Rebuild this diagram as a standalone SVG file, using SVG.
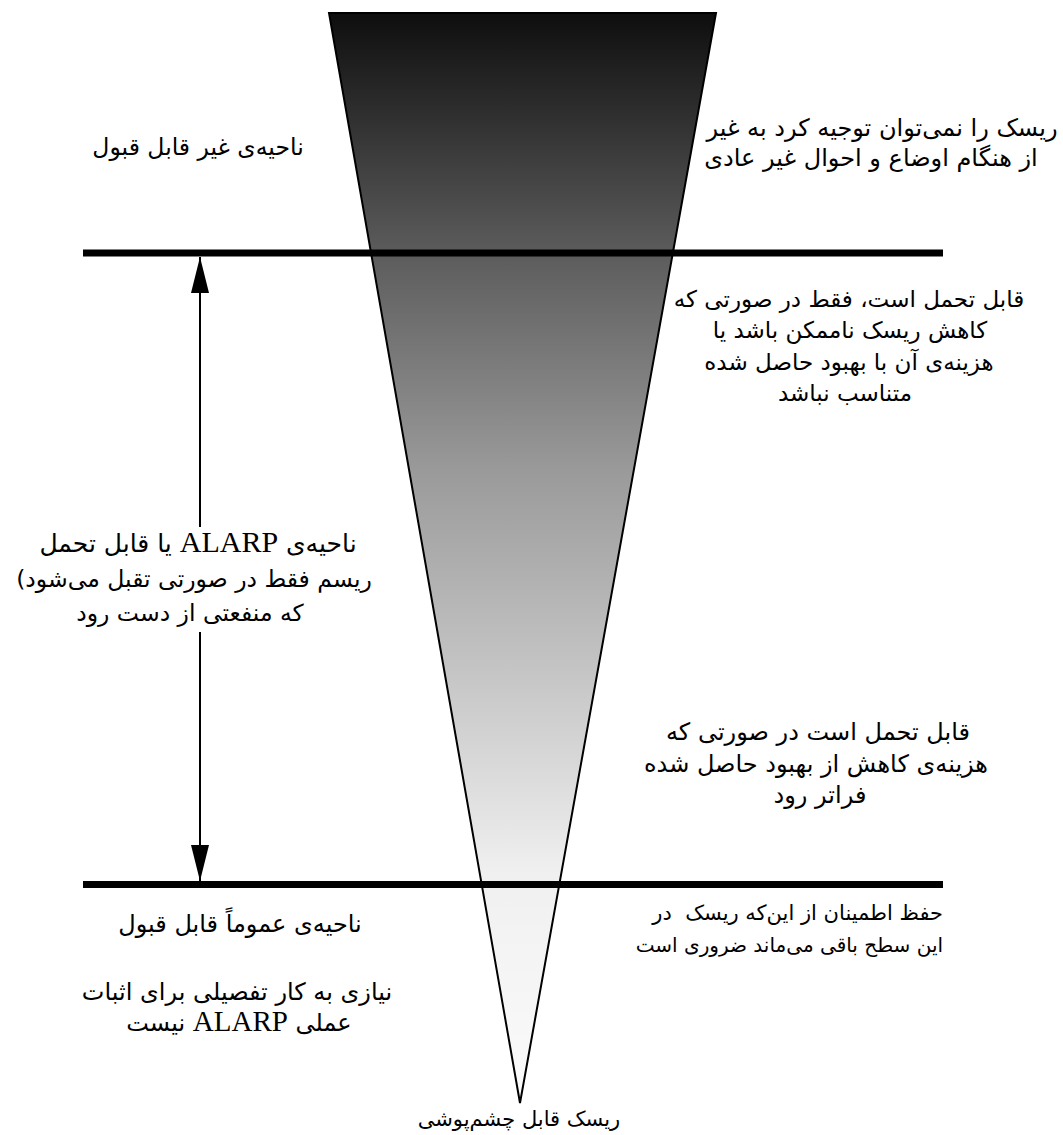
<svg xmlns="http://www.w3.org/2000/svg" width="1063" height="1135" viewBox="0 0 1063 1135">
<defs>
<linearGradient id="tri" gradientUnits="userSpaceOnUse" x1="0" y1="13" x2="0" y2="1103">
<stop offset="0" stop-color="#0e0e0e"/>
<stop offset="0.215" stop-color="#5a5a5a"/>
<stop offset="0.42" stop-color="#9a9a9a"/>
<stop offset="0.79" stop-color="#f0f0f0"/>
<stop offset="1" stop-color="#fbfbfb"/>
</linearGradient>
<marker id="ah" viewBox="0 0 36 18" refX="36" refY="9" markerWidth="36" markerHeight="18" orient="auto" markerUnits="userSpaceOnUse">
<path d="M0,0 L36,9 L0,18 z" fill="#000"/>
</marker>
<style>
text{font-family:"DejaVu Sans","Noto Sans",sans-serif;font-size:23px;fill:#000;text-anchor:middle}
.lat{font-family:"Liberation Serif",serif;font-size:29px}
.bar{stroke:#000;stroke-width:7}
.arr{stroke:#000;stroke-width:2;fill:none;marker-end:url(#ah)}
</style>
</defs>
<rect width="1063" height="1135" fill="#fff"/>
<g id="triangle">
<path d="M329,13 L716,13 L520,1103 Z" fill="url(#tri)" stroke="#000" stroke-width="2" stroke-linejoin="miter"/>
</g>
<g id="limits">
<line class="bar" x1="83" y1="253" x2="943" y2="253"/>
<line class="bar" x1="83" y1="884.5" x2="943" y2="884.5"/>
</g>
<g id="connectors">
<line class="arr" x1="200" y1="527" x2="200" y2="257"/>
<line class="arr" x1="200" y1="632" x2="200" y2="881"/>
</g>
<g id="unacceptable-region">
<text x="198" y="155" style="font-size:23.5px">ناحیه‌ی غیر قابل قبول</text>
</g>
<g id="unacceptable-note">
<text x="882" y="136" style="font-size:24px">ریسک را نمی‌توان توجیه کرد به غیر</text>
<text x="871" y="166" style="font-size:24px">از هنگام اوضاع و احوال غیر عادی</text>
</g>
<g id="tolerable-note-1">
<text x="849" y="307">قابل تحمل است، فقط در صورتی که</text>
<text x="850" y="338">کاهش ریسک ناممکن باشد یا</text>
<text x="849" y="370">هزینه‌ی آن با بهبود حاصل شده</text>
<text x="845" y="401">متناسب نباشد</text>
</g>
<g id="alarp-region">
<text x="198" y="552" direction="rtl" style="font-size:25px">ناحیه‌ی <tspan class="lat" style="font-size:30px">ALARP</tspan> یا قابل تحمل</text>
<text x="194" y="587" style="font-size:23.5px">(ریسم فقط در صورتی تقبل می‌شود</text>
<text x="190" y="621" style="font-size:23.5px">که منفعتی از دست رود</text>
</g>
<g id="tolerable-note-2">
<text x="818" y="740" style="font-size:24px">قابل تحمل است در صورتی که</text>
<text x="816" y="772" style="font-size:24px">هزینه‌ی کاهش از بهبود حاصل شده</text>
<text x="820" y="803" style="font-size:24px">فراتر رود</text>
</g>
<g id="acceptable-note">
<text x="943" y="920" style="text-anchor:end;white-space:pre;font-size:21px">حفظ اطمینان از این‌که ریسک  در</text>
<text x="943" y="952" style="text-anchor:end;font-size:20px">این سطح باقی می‌ماند ضروری است</text>
</g>
<g id="acceptable-region">
<text x="240" y="932" style="font-size:24px">ناحیه‌ی عموماً قابل قبول</text>
<text x="237" y="1000" style="font-size:24px">نیازی به کار تفصیلی برای اثبات</text>
<text x="239" y="1031" direction="rtl" style="font-size:24px">عملی <tspan class="lat">ALARP</tspan> نیست</text>
</g>
<g id="negligible">
<text x="519" y="1126" style="font-size:21px">ریسک قابل چشم‌پوشی</text>
</g>
</svg>
